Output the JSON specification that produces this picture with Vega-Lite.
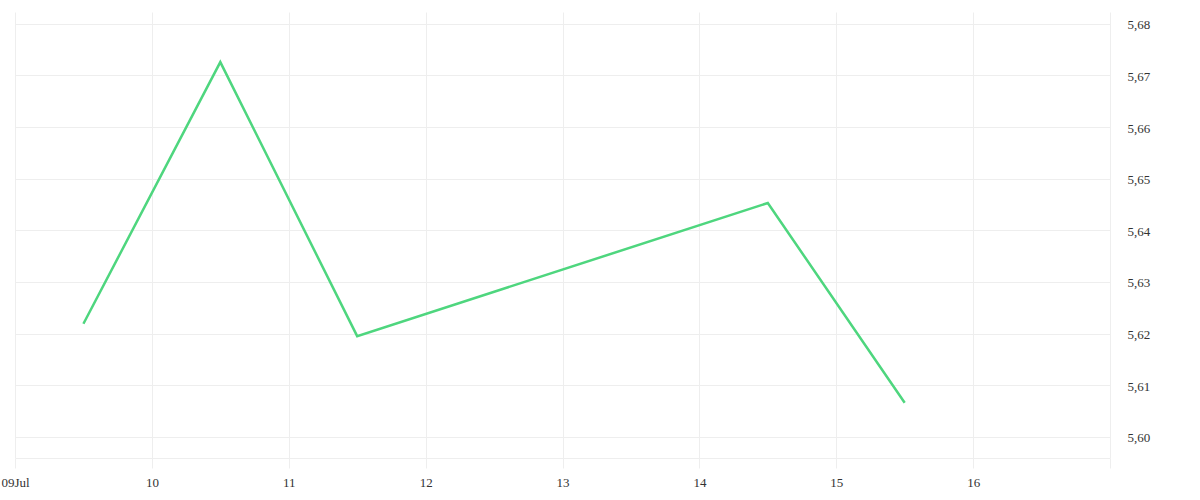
{
  "$schema": "https://vega.github.io/schema/vega-lite/v6.json",
  "autosize": "none",
  "width": 1095,
  "height": 446,
  "padding": {"left": 15, "top": 12, "right": 90, "bottom": 42},
  "background": "white",
  "config": {"view": {"stroke": null}, "font": "Liberation Serif"},
  "data": {"values": [
    {"date": "2024-07-09T12:00:00Z", "value": 5.6219},
    {"date": "2024-07-10T12:00:00Z", "value": 5.6726},
    {"date": "2024-07-11T12:00:00Z", "value": 5.6195},
    {"date": "2024-07-14T12:00:00Z", "value": 5.6453},
    {"date": "2024-07-15T12:00:00Z", "value": 5.6066}
  ]},
  "mark": {"type": "line", "color": "#4ed67e", "strokeWidth": 2.5},
  "encoding": {
    "x": {
      "field": "date", "type": "temporal",
      "scale": {"type": "utc", "domain": [
        {"year": 2024, "month": 7, "date": 9, "utc": true},
        {"year": 2024, "month": 7, "date": 17, "utc": true}
      ]},
      "axis": {
        "title": null,
        "values": [
          {"year": 2024, "month": 7, "date": 9, "utc": true},
          {"year": 2024, "month": 7, "date": 10, "utc": true},
          {"year": 2024, "month": 7, "date": 11, "utc": true},
          {"year": 2024, "month": 7, "date": 12, "utc": true},
          {"year": 2024, "month": 7, "date": 13, "utc": true},
          {"year": 2024, "month": 7, "date": 14, "utc": true},
          {"year": 2024, "month": 7, "date": 15, "utc": true},
          {"year": 2024, "month": 7, "date": 16, "utc": true},
          {"year": 2024, "month": 7, "date": 17, "utc": true}
        ],
        "labelExpr": "utcdate(datum.value) == 9 ? '09Jul' : (utcdate(datum.value) == 17 ? '' : utcFormat(datum.value, '%d'))",
        "grid": true, "gridColor": "#eeeeee", "gridWidth": 1,
        "domain": true, "domainColor": "#eeeeee", "domainWidth": 1,
        "ticks": true, "tickColor": "#eeeeee", "tickSize": 10, "tickWidth": 1,
        "labelFontSize": 13, "labelColor": "#333333", "labelPadding": 8,
        "labelAlign": "center", "labelFlush": false, "labelOverlap": false
      }
    },
    "y": {
      "field": "value", "type": "quantitative",
      "scale": {"domain": [5.5959, 5.6823], "nice": false, "zero": false},
      "axis": {
        "orient": "right", "title": null,
        "values": [5.60, 5.61, 5.62, 5.63, 5.64, 5.65, 5.66, 5.67, 5.68],
        "labelExpr": "replace(format(datum.value, '.2f'), '.', ',')",
        "grid": true, "gridColor": "#eeeeee", "gridWidth": 1,
        "domain": false, "ticks": false,
        "labelFontSize": 13, "labelColor": "#333333", "labelPadding": 17,
        "labelAlign": "left", "labelBaseline": "middle", "labelOffset": 1
      }
    }
  }
}
